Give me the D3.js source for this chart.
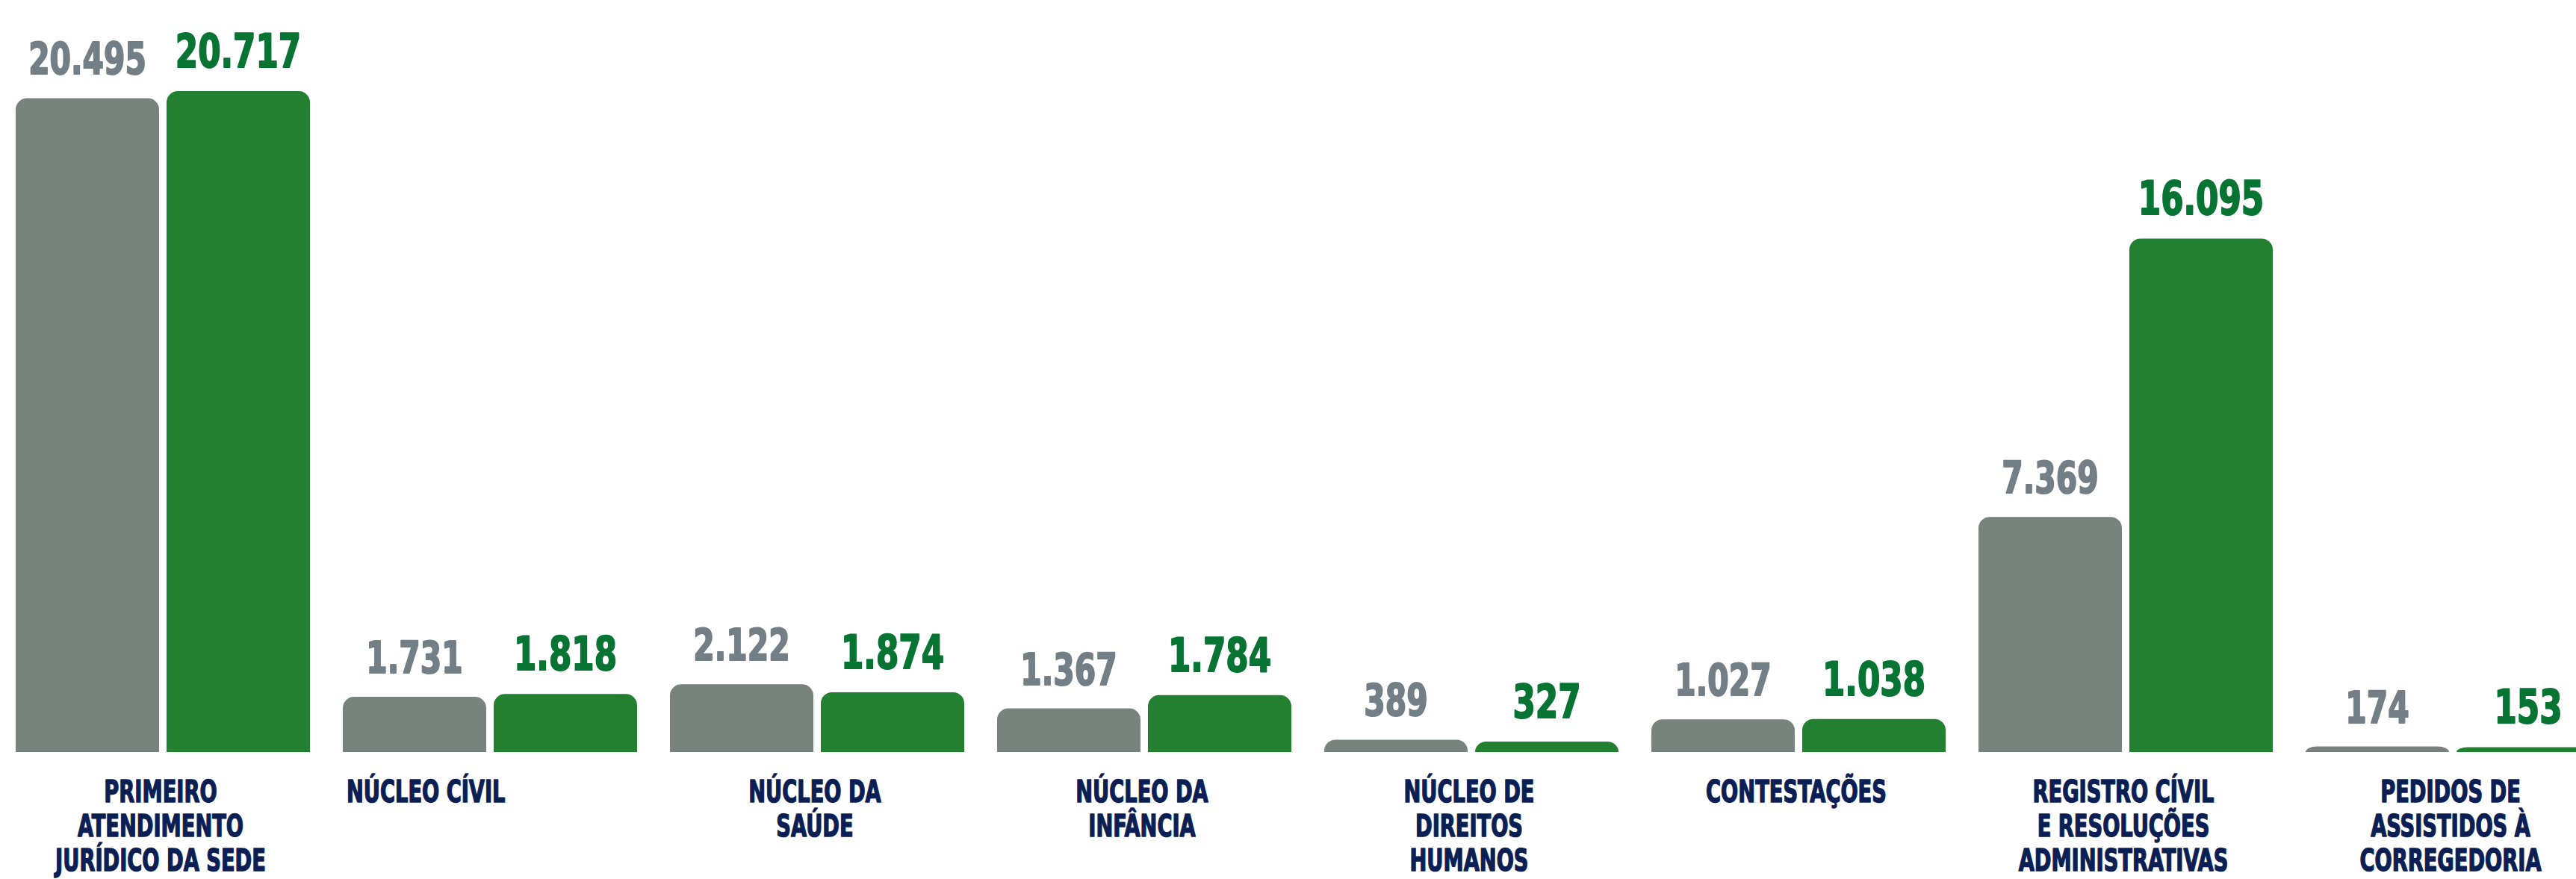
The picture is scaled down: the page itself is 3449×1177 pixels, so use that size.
<!DOCTYPE html>
<html>
<head>
<meta charset="utf-8">
<script src="https://cdn.jsdelivr.net/npm/d3@7"></script>
<style>
  html, body { margin: 0; padding: 0; background: #fff; }
  svg { display: block; }
</style>
</head>
<body>
<div id="chart"></div>
<script>
// categories (line breaks marked with |)
const categories = [
  "PRIMEIRO|ATENDIMENTO|JURÍDICO DA SEDE",
  "NÚCLEO CÍVIL",
  "NÚCLEO DA|SAÚDE",
  "NÚCLEO DA|INFÂNCIA",
  "NÚCLEO DE|DIREITOS|HUMANOS",
  "CONTESTAÇÕES",
  "REGISTRO CÍVIL|E RESOLUÇÕES|ADMINISTRATIVAS",
  "PEDIDOS DE|ASSISTIDOS À|CORREGEDORIA"
];
const series = ["anterior", "atual"];
const valuesAnterior = [20495, 1731, 2122, 1367, 389, 1027, 7369, 174];
const valuesAtual    = [20717, 1818, 1874, 1784, 327, 1038, 16095, 153];

const width = 3449, height = 1177;
const baseline = 1007, topMax = 122;
const barColor  = { anterior: "#78837d", atual: "#238030" };
const textColor = { anterior: "#737f86", atual: "#087434" };
const navy = "#0c1f55";

const data = categories.map((c, i) => ({
  cat: c,
  vals: [
    { key: "anterior", value: valuesAnterior[i] },
    { key: "atual", value: valuesAtual[i] }
  ]
}));

const fmt = d3.formatLocale({ decimal: ",", thousands: ".", grouping: [3], currency: ["R$", ""] }).format(",d");

const svg = d3.select("#chart").append("svg")
  .attr("width", width)
  .attr("height", height);

// group scale: step 438, band 394
const x0 = d3.scaleBand()
  .domain(categories)
  .range([21, 21 + 438 * 8 - 44])
  .paddingInner(44 / 438)
  .paddingOuter(0);

const x1 = d3.scaleBand()
  .domain(series)
  .range([0, x0.bandwidth()])
  .paddingInner(10 / 202);

const y = d3.scaleLinear()
  .domain([0, d3.max(valuesAtual.concat(valuesAnterior))])
  .range([baseline, topMax]);

// bar with rounded top corners
function barPath(x, w, yTop) {
  const h = baseline - yTop;
  const rx = Math.min(15, w / 2), ry = Math.min(15, h);
  return "M" + x + "," + baseline +
    "V" + (yTop + ry) +
    "A" + rx + "," + ry + " 0 0 1 " + (x + rx) + "," + yTop +
    "H" + (x + w - rx) +
    "A" + rx + "," + ry + " 0 0 1 " + (x + w) + "," + (yTop + ry) +
    "V" + baseline + "Z";
}

const groups = svg.append("g")
  .selectAll("g")
  .data(data)
  .enter()
  .append("g")
    .attr("transform", d => "translate(" + x0(d.cat) + ",0)");

groups.selectAll("path")
  .data(d => d.vals)
  .enter()
  .append("path")
    .attr("d", d => barPath(x1(d.key), x1.bandwidth(), y(d.value)))
    .attr("fill", d => barColor[d.key]);

// value labels
groups.selectAll("text.val")
  .data(d => d.vals)
  .enter()
  .append("text")
    .attr("class", "val")
    .attr("transform", d => "translate(" + (x1(d.key) + x1.bandwidth() / 2) + "," + (y(d.value) - 32) + ") scale(0.77,1)")
    .attr("text-anchor", "middle")
    .attr("font-family", "'DejaVu Sans Condensed', 'DejaVu Sans', sans-serif")
    .attr("font-weight", "bold")
    .attr("font-size", d => d.key === "atual" ? 63 : 59)
    .attr("fill", d => textColor[d.key])
    .attr("stroke", d => textColor[d.key])
    .attr("stroke-width", 2)
    .attr("stroke-linejoin", "round")
    .text(d => fmt(d.value));

// category labels ("NÚCLEO CÍVIL" sits left-aligned under its bars)
const leftAligned = ["NÚCLEO CÍVIL"];
const catLabels = groups.append("text")
  .attr("transform", d => leftAligned.includes(d.cat)
    ? "translate(5,1074) scale(0.74,1)"
    : "translate(" + (x0.bandwidth() / 2 - 3) + ",1074) scale(0.74,1)")
  .attr("text-anchor", d => leftAligned.includes(d.cat) ? "start" : "middle")
  .attr("font-family", "'DejaVu Sans Condensed', 'DejaVu Sans', sans-serif")
  .attr("font-weight", "bold")
  .attr("font-size", 41)
  .attr("fill", navy)
  .attr("stroke", navy)
  .attr("stroke-width", 1.5)
  .attr("stroke-linejoin", "round");

catLabels.selectAll("tspan")
  .data(d => d.cat.split("|"))
  .enter()
  .append("tspan")
    .attr("x", 0)
    .attr("dy", (d, i) => i === 0 ? 0 : 46)
    .text(d => d);
</script>
</body>
</html>
